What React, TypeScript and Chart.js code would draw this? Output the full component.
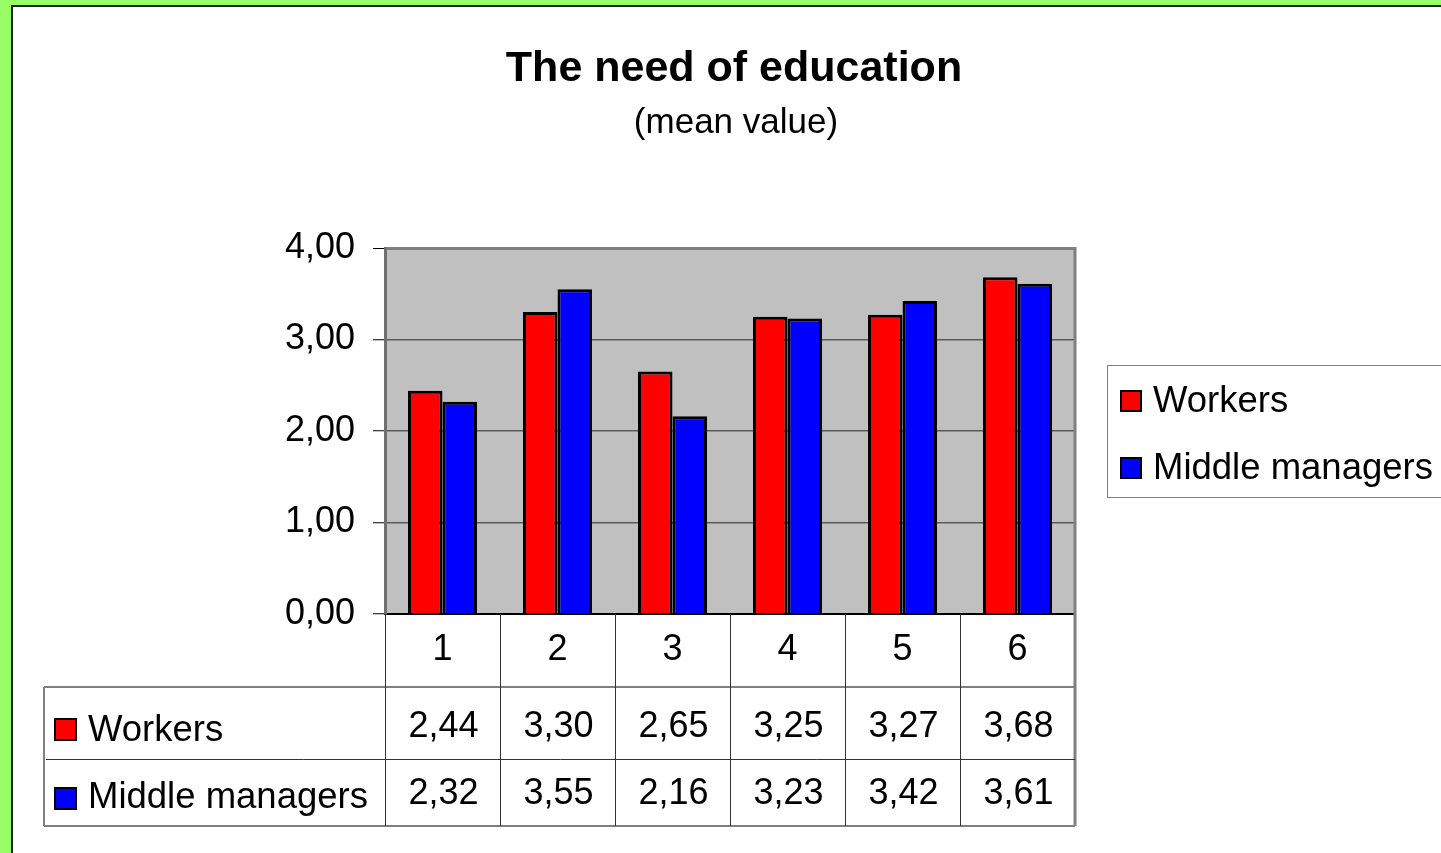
import React, { useEffect, useRef } from "react";
import { Chart, registerables } from "chart.js";

Chart.register(...registerables);

const categories = ["1", "2", "3", "4", "5", "6"];
const workers = [2.44, 3.3, 2.65, 3.25, 3.27, 3.68];
const managers = [2.32, 3.55, 2.16, 3.23, 3.42, 3.61];
const yTickValues = [0, 1, 2, 3, 4];
const seriesNames = ["Workers", "Middle managers"];
const seriesColors = ["#FF0000", "#0000FF"];
const titleText = "The need of education";
const subtitleText = "(mean value)";

const FONT = '"Liberation Sans", Arial, sans-serif';
const fmt = (v: number) => v.toFixed(2).replace(".", ",");

const W = 1441;
const H = 853;

const decorPlugin = {
  id: "decor",
  beforeDraw(chart: any) {
    const ctx = chart.ctx;
    const ca = chart.chartArea;
    ctx.save();
    ctx.fillStyle = "#99FF66";
    ctx.fillRect(0, 0, W, H);
    ctx.fillStyle = "#FFFFFF";
    ctx.fillRect(12, 6, W - 12, H - 6);
    ctx.strokeStyle = "#222222";
    ctx.lineWidth = 2;
    ctx.beginPath();
    ctx.moveTo(12, H);
    ctx.lineTo(12, 6);
    ctx.lineTo(W, 6);
    ctx.stroke();
    ctx.fillStyle = "#C0C0C0";
    ctx.fillRect(ca.left, ca.top, ca.right - ca.left, ca.bottom - ca.top);
    ctx.restore();
  },
  afterDraw(chart: any) {
    const ctx = chart.ctx;
    const ca = chart.chartArea;
    const xs = chart.scales.x;
    ctx.save();

    // plot right border
    ctx.strokeStyle = "#808080";
    ctx.lineWidth = 3;
    ctx.beginPath();
    ctx.moveTo(ca.right, ca.top - 1);
    ctx.lineTo(ca.right, ca.bottom);
    ctx.stroke();

    // title
    ctx.fillStyle = "#000";
    ctx.textAlign = "center";
    ctx.textBaseline = "alphabetic";
    ctx.font = `bold 43px ${FONT}`;
    ctx.fillText(titleText, 734, 81);
    ctx.font = `35px ${FONT}`;
    ctx.fillText(subtitleText, 736, 133);

    // legend
    ctx.strokeStyle = "#808080";
    ctx.lineWidth = 1;
    ctx.strokeRect(1107.5, 365.5, 400, 132);
    ctx.font = `36.5px ${FONT}`;
    ctx.textAlign = "left";
    const legBase = [412, 479];
    seriesNames.forEach((name, i) => {
      const b = legBase[i];
      ctx.fillStyle = seriesColors[i];
      ctx.fillRect(1121, b - 21, 20, 20);
      ctx.strokeStyle = "#000";
      ctx.lineWidth = 2;
      ctx.strokeRect(1121, b - 21, 20, 20);
      ctx.fillStyle = "#000";
      ctx.fillText(name, 1153, b);
    });

    // data table
    const colW = (ca.right - ca.left) / categories.length;
    const r1 = ca.bottom + 73;
    const r2 = ca.bottom + 145;
    const r3 = ca.bottom + 212;
    const leftX = 44;

    ctx.strokeStyle = "#808080";
    ctx.lineWidth = 2;
    ctx.beginPath();
    ctx.moveTo(leftX, r1);
    ctx.lineTo(ca.right, r1);
    ctx.moveTo(leftX, r3);
    ctx.lineTo(ca.right, r3);
    ctx.moveTo(leftX, r1);
    ctx.lineTo(leftX, r3);
    ctx.stroke();

    ctx.lineWidth = 3;
    ctx.beginPath();
    ctx.moveTo(ca.right, ca.bottom);
    ctx.lineTo(ca.right, r3);
    ctx.stroke();

    ctx.strokeStyle = "#333";
    ctx.lineWidth = 1;
    ctx.beginPath();
    ctx.moveTo(leftX + 2, r2 + 0.5);
    ctx.lineTo(ca.right, r2 + 0.5);
    for (let k = 0; k < categories.length; k++) {
      const x = Math.round(ca.left + k * colW) + 0.5;
      ctx.moveTo(x, ca.bottom);
      ctx.lineTo(x, r3);
    }
    ctx.stroke();

    const rows = [workers, managers];
    const rowBase = [r1 + 50, r2 + 45];
    const markBase = [r1 + 54, r2 + 51];
    rows.forEach((vals, ri) => {
      ctx.fillStyle = seriesColors[ri];
      ctx.fillRect(55, markBase[ri] - 22, 21, 21);
      ctx.strokeStyle = "#000";
      ctx.lineWidth = 2;
      ctx.strokeRect(55, markBase[ri] - 22, 21, 21);
      ctx.fillStyle = "#000";
      ctx.textAlign = "left";
      ctx.font = `36.5px ${FONT}`;
      ctx.fillText(seriesNames[ri], 88, rowBase[ri] + 4);
      ctx.textAlign = "center";
      ctx.font = `36px ${FONT}`;
      vals.forEach((v, i) => {
        ctx.fillText(fmt(v), xs.getPixelForValue(i) + 1, rowBase[ri]);
      });
    });

    ctx.restore();
  },
};

export default function App() {
  const ref = useRef<HTMLCanvasElement>(null);
  useEffect(() => {
    if (!ref.current) return;
    const chart = new Chart(ref.current, {
      type: "bar",
      data: {
        labels: categories,
        datasets: [
          {
            label: seriesNames[0],
            data: workers,
            backgroundColor: seriesColors[0],
            borderColor: "#000",
            borderWidth: 3,
          },
          {
            label: seriesNames[1],
            data: managers,
            backgroundColor: seriesColors[1],
            borderColor: "#000",
            borderWidth: 3,
          },
        ],
      },
      options: {
        animation: false,
        responsive: false,
        maintainAspectRatio: false,
        devicePixelRatio: 1,
        layout: { padding: { left: 0, top: 248, right: W - 1075, bottom: 0 } },
        datasets: { bar: { categoryPercentage: 0.6, barPercentage: 1 } },
        plugins: {
          legend: { display: false },
          title: { display: false },
          tooltip: { enabled: false },
        },
        scales: {
          x: {
            afterFit: (axis: any) => {
              axis.height = H - 614;
            },
            grid: { display: false },
            border: { display: true, color: "#000", width: 2 },
            ticks: {
              color: "#000",
              font: { family: FONT, size: 36 },
              padding: 6,
              maxRotation: 0,
            },
          },
          y: {
            min: 0,
            max: 4,
            afterFit: (axis: any) => {
              axis.width = 385;
            },
            afterBuildTicks: (axis: any) => {
              axis.ticks = yTickValues.map((v) => ({ value: v }));
            },
            grid: {
              color: (c: any) => (c.tick && c.tick.value === 4 ? "#808080" : "#5a5a5a"),
              lineWidth: (c: any) => (c.tick && c.tick.value === 4 ? 3 : 1.5),
              tickColor: "#000",
              tickLength: 12,
              tickWidth: 1,
            },
            border: { display: true, color: "#707070", width: 3 },
            ticks: {
              color: "#000",
              font: { family: FONT, size: 36 },
              padding: 18,
              callback: (v: any) => fmt(Number(v)),
            },
          },
        },
      },
      plugins: [decorPlugin],
    });
    return () => chart.destroy();
  }, []);
  return (
    <div style={{ position: "fixed", left: 0, top: 0, width: W, height: H }}>
      <canvas ref={ref} width={W} height={H} style={{ display: "block", width: W, height: H }} />
    </div>
  );
}
